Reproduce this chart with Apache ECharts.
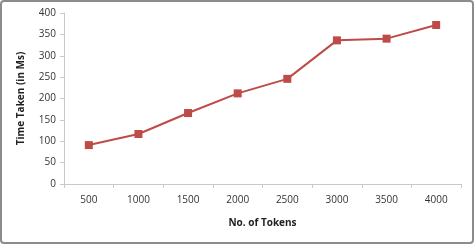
<!DOCTYPE html>
<html><head><meta charset="utf-8">
<script src="https://cdn.jsdelivr.net/npm/echarts@6/dist/echarts.min.js"></script>
<style>html,body{margin:0;padding:0;background:#fff}#c{width:475px;height:245px}</style>
</head><body><div id="c"></div>
<script>
const categories = ['500','1000','1500','2000','2500','3000','3500','4000'];
const timeTaken = [91, 117, 166, 212, 246, 336, 340, 372];
const yTicks = [0, 50, 100, 150, 200, 250, 300, 350, 400];

const chart = echarts.init(document.getElementById('c'), null, {renderer:'canvas'});
chart.setOption({
  animation:false,
  backgroundColor:'#fff',
  graphic:[{type:'rect',shape:{x:1,y:1,width:472,height:242,r:3},style:{fill:'none',stroke:'#8c8c8c',lineWidth:2},z:-1}],
  grid:{left:64,right:14,top:13,bottom:61,containLabel:false},
  xAxis:{type:'category',data:categories,boundaryGap:true,
    name:'No. of Tokens',nameLocation:'middle',nameGap:34,
    nameTextStyle:{fontFamily:'Open Sans',fontSize:10,fontWeight:'bold',color:'#222'},
    axisLine:{lineStyle:{color:'#c8c8c8',width:1}},
    axisTick:{show:true,alignWithLabel:false,length:4,lineStyle:{color:'#c8c8c8'}},
    axisLabel:{fontFamily:'Open Sans',fontSize:10,color:'#333',margin:11},
    splitLine:{show:false}},
  yAxis:{type:'value',min:yTicks[0],max:yTicks[yTicks.length-1],interval:50,
    name:'Time Taken (in Ms)',nameLocation:'middle',nameGap:38,
    nameTextStyle:{fontFamily:'Open Sans',fontSize:10,fontWeight:'bold',color:'#222'},
    axisLine:{show:true,lineStyle:{color:'#c8c8c8'}},
    axisTick:{show:true,length:4,lineStyle:{color:'#c8c8c8'}},
    axisLabel:{fontFamily:'Open Sans',fontSize:10,color:'#333',margin:8},
    splitLine:{show:false}},
  series:[{type:'line',data:timeTaken,symbol:'rect',symbolSize:8,
    lineStyle:{color:'#BE4B48',width:2},itemStyle:{color:'#BE4B48'}}]
});
</script></body></html>
